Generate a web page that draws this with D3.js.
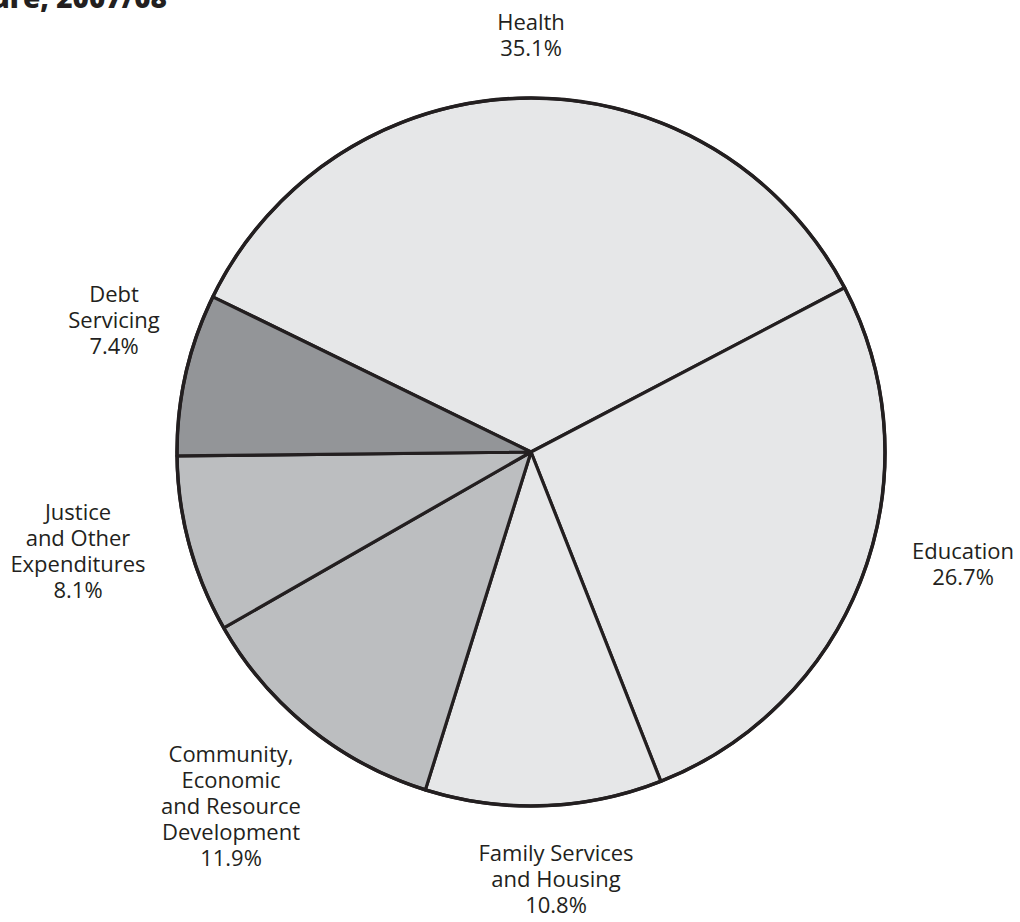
<!DOCTYPE html>
<html>
<head>
<meta charset="utf-8">
<script src="https://cdn.jsdelivr.net/npm/d3@7/dist/d3.min.js"></script>
<style>
  html, body { margin: 0; padding: 0; background: #ffffff; }
  svg { display: block; }
  text { font-family: "Open Sans", "Liberation Sans", sans-serif; fill: #231f20; }
</style>
</head>
<body>
<svg id="chart" width="1020" height="922"></svg>
<script>
// Summary expenditure shares, 2007/08 (per cent)
const categories = [
  "Health",
  "Education",
  "Family Services and Housing",
  "Community, Economic and Resource Development",
  "Justice and Other Expenditures",
  "Debt Servicing"
];
const shares = [35.1, 26.7, 10.8, 11.9, 8.1, 7.4];
const labelLines = [
  ["Health"],
  ["Education"],
  ["Family Services", "and Housing"],
  ["Community,", "Economic", "and Resource", "Development"],
  ["Justice", "and Other", "Expenditures"],
  ["Debt", "Servicing"]
];
const shadeIndex = [0, 0, 0, 1, 1, 2];
const shades = ["#e6e7e8", "#bcbec0", "#939598"];

const W = 1020, H = 922;
const cx = 531, cy = 452, radius = 354;
const lineH = 26;

// label anchors: centre x and first baseline
const labelPos = [
  [531, 30],
  [963, 559],
  [556, 861],
  [231, 762],
  [78, 520],
  [114, 302]
];

const svg = d3.select("#chart");

// Title (runs off the top-left page edge)
svg.append("text")
  .attr("x", 167).attr("y", 8)
  .attr("text-anchor", "end")
  .style("font-size", "28px")
  .style("font-weight", "800")
  .text("Summary Expenditure, 2007/08");

const data = categories.map((c, i) => ({ name: c, value: shares[i], i }));

const start = -64 * Math.PI / 180;
const pie = d3.pie()
  .sort(null)
  .value(d => d.value)
  .startAngle(start)
  .endAngle(start + 2 * Math.PI);

const arc = d3.arc().innerRadius(0).outerRadius(radius);

const g = svg.append("g").attr("transform", `translate(${cx},${cy})`);

g.selectAll("path.slice")
  .data(pie(data))
  .join("path")
  .attr("class", "slice")
  .attr("d", arc)
  .attr("fill", d => shades[shadeIndex[d.data.i]])
  .attr("stroke", "#231f20")
  .attr("stroke-width", 3.2)
  .attr("stroke-linejoin", "round");

// outer rim
g.append("circle")
  .attr("r", radius)
  .attr("fill", "none")
  .attr("stroke", "#231f20")
  .attr("stroke-width", 3.5);

// labels
const labels = svg.append("g");
data.forEach((d, i) => {
  const [x, y] = labelPos[i];
  const t = labels.append("text")
    .attr("text-anchor", "middle")
    .style("font-size", "22px");
  const lines = labelLines[i].concat([d3.format(".1f")(d.value) + "%"]);
  lines.forEach((ln, k) => {
    t.append("tspan").attr("x", x).attr("y", y + k * lineH).text(ln);
  });
});
</script>
</body>
</html>
